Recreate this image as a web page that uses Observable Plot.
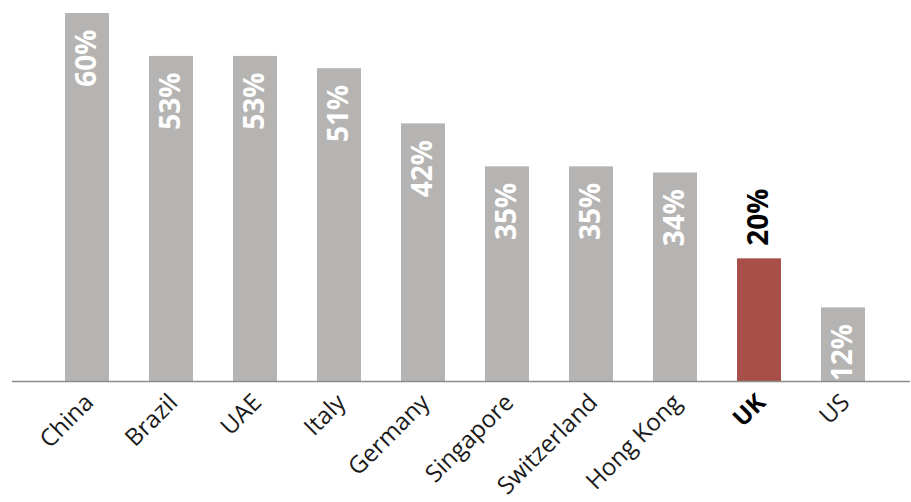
<!DOCTYPE html>
<html>
<head>
<meta charset="utf-8">
<script src="https://cdn.jsdelivr.net/npm/d3@7"></script>
<script src="https://cdn.jsdelivr.net/npm/@observablehq/plot@0.6"></script>
<style>
  html, body { margin: 0; padding: 0; background: #fff; }
  #chart svg { display: block; }
</style>
</head>
<body>
<div id="chart"></div>
<script>
const countries = ["China", "Brazil", "UAE", "Italy", "Germany", "Singapore", "Switzerland", "Hong Kong", "UK", "US"];
const values = [60, 53, 53, 51, 42, 35, 35, 34, 20, 12];
const highlight = "UK";

const data = countries.map((c, i) => ({country: c, value: values[i], label: values[i] + "%"}));
const others = data.filter(d => d.country !== highlight);
const hi = data.filter(d => d.country === highlight);

const chart = Plot.plot({
  width: 911,
  height: 502,
  marginLeft: 12,
  marginRight: 1,
  marginTop: 13,
  marginBottom: 121,
  style: {fontFamily: "'Open Sans', sans-serif", background: "#fff"},
  x: {domain: countries, range: [45, 885], paddingInner: 40 / 84, paddingOuter: 20 / 84, axis: null},
  y: {domain: [0, 60], axis: null},
  marks: [
    Plot.barY(data, {x: "country", y: "value", fill: d => d.country === highlight ? "#a94f4a" : "#b5b4b2"}),
    Plot.ruleY([0], {stroke: "#8c8c8c", strokeWidth: 1.5}),
    Plot.text(others, {x: "country", y: "value", text: "label", rotate: -90, textAnchor: "end", lineAnchor: "middle", dy: 16, fill: "#fff", fontWeight: "bold", fontSize: 28}),
    Plot.text(hi, {x: "country", y: "value", text: "label", rotate: -90, textAnchor: "start", lineAnchor: "middle", dy: -13, fill: "#000", fontWeight: "bold", fontSize: 28}),
    Plot.text(others, {x: "country", y: 0, text: "country", rotate: -45, textAnchor: "end", lineAnchor: "middle", dx: 2, dy: 17, fill: "#1a1a1a", fontSize: 24}),
    Plot.text(hi, {x: "country", y: 0, text: "country", rotate: -45, textAnchor: "end", lineAnchor: "middle", dx: 2, dy: 17, fill: "#000", fontWeight: "bold", fontSize: 24})
  ]
});
document.getElementById("chart").appendChild(chart);
</script>
</body>
</html>
